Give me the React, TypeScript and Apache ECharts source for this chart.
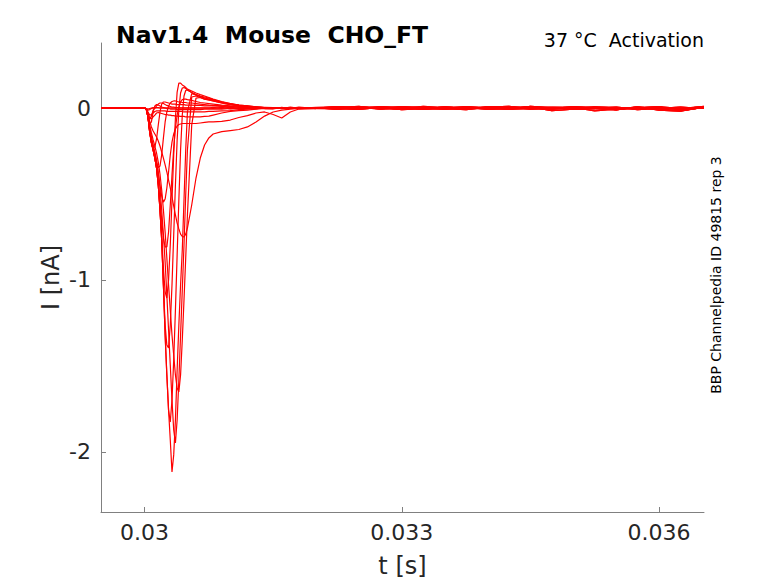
import React, { useEffect, useRef } from "react";
import * as echarts from "echarts";

// ---- time grids (ms) ----
const TIME_PRE_MS = [29.492, 29.65, 29.8, 29.92, 30.0];
const TIME_ONSET_MS = [
  30.02, 30.04, 30.06, 30.08, 30.1, 30.12, 30.14, 30.16, 30.18, 30.2,
  30.22, 30.24, 30.26, 30.28, 30.3, 30.32, 30.34, 30.36, 30.38, 30.4,
  30.42, 30.44, 30.46, 30.48, 30.5, 30.55, 30.6, 30.65, 30.7, 30.75,
  30.8, 30.9, 31.0, 31.1, 31.2, 31.3, 31.4, 31.5, 31.6, 31.7,
  31.8, 32.0,
];
const TIME_TAIL_MS = [
  32.25, 32.5, 32.75, 33, 33.25, 33.5, 33.75, 34, 34.25, 34.5, 34.75, 35,
  35.25, 35.5, 35.75, 36, 36.25, 36.525,
];

// ---- baseline segments (nA) ----
const PRE_A = [0.002, -0.002, 0.003, -0.001, 0];
const PRE_B = [-0.002, 0.002, -0.001, 0.002, 0];
const TAIL_A = [0.006, -0.004, 0.008, 0.003, -0.006, 0.007, -0.003, 0.005, 0.009, -0.004, 0.003, -0.008, -0.003, 0.006, -0.007, 0.004, -0.005, 0.008];
const TAIL_B = [-0.007, 0.004, -0.003, 0.008, 0.002, -0.008, 0.006, -0.004, 0.003, 0.007, -0.016, -0.006, 0.004, -0.003, 0.006, -0.013, -0.018, 0.005];
const TAIL_C = [0.003, 0.009, -0.006, -0.003, 0.009, 0.003, -0.007, 0.008, -0.008, -0.003, 0.006, 0.004, -0.017, -0.007, 0.003, 0.008, -0.004, 0.009];
const TAIL_D = [-0.003, -0.008, 0.004, -0.009, -0.003, 0.006, 0.003, -0.008, -0.004, 0.006, -0.008, 0.003, -0.004, -0.011, 0.007, -0.006, -0.015, 0.003];
const TAIL_E = [0.008, 0.002, -0.005, 0.006, -0.008, -0.002, 0.008, 0.001, -0.006, 0.009, 0.002, -0.004, 0.007, 0.003, -0.009, -0.002, 0.006, -0.003];
const TAIL_F = [-0.005, 0.007, 0.002, -0.006, 0.005, -0.004, -0.009, 0.004, 0.007, -0.007, -0.003, 0.008, 0.002, -0.009, 0.001, 0.005, -0.009, 0.006];

// ---- current traces during onset window (nA) ----
const TRACE_A = [-0.006, -0.047, -0.093, -0.081, -0.023, 0.012, 0.02, 0.017, 0.012, 0.006, 0.003, 0, -0.003, -0.003, -0.006, -0.006, -0.006, -0.006, -0.009, -0.009, -0.009, -0.009, -0.009, -0.009, -0.009, -0.009, -0.009, -0.009, -0.006, -0.006, -0.006, -0.006, -0.003, -0.003, -0.003, 0, 0, 0, 0, 0, 0, 0];
const TRACE_B = [-0.006, -0.052, -0.128, -0.192, -0.227, -0.227, -0.18, -0.099, -0.023, 0.023, 0.035, 0.035, 0.032, 0.029, 0.026, 0.023, 0.023, 0.023, 0.02, 0.02, 0.02, 0.02, 0.02, 0.017, 0.017, 0.017, 0.015, 0.015, 0.012, 0.012, 0.012, 0.009, 0.006, 0.006, 0.003, 0, 0, 0, 0, 0, 0, 0];
const TRACE_C = [-0.006, -0.052, -0.128, -0.192, -0.244, -0.285, -0.32, -0.346, -0.337, -0.273, -0.174, -0.081, -0.023, 0.012, 0.029, 0.038, 0.041, 0.041, 0.038, 0.035, 0.035, 0.032, 0.032, 0.032, 0.029, 0.029, 0.026, 0.023, 0.02, 0.017, 0.015, 0.012, 0.009, 0.006, 0.003, 0, 0, 0, 0, 0, 0, 0];
const TRACE_D = [-0.006, -0.047, -0.116, -0.174, -0.221, -0.267, -0.32, -0.378, -0.448, -0.512, -0.547, -0.529, -0.465, -0.372, -0.273, -0.198, -0.151, -0.122, -0.105, -0.096, -0.093, -0.09, -0.09, -0.09, -0.09, -0.09, -0.09, -0.087, -0.084, -0.081, -0.081, -0.078, -0.07, -0.055, -0.044, -0.029, -0.023, -0.038, -0.058, -0.023, -0.006, -0.003];
const TRACE_E = [-0.006, -0.052, -0.134, -0.198, -0.238, -0.285, -0.343, -0.43, -0.535, -0.651, -0.756, -0.808, -0.808, -0.721, -0.564, -0.39, -0.233, -0.116, -0.041, 0.006, 0.035, 0.049, 0.052, 0.052, 0.049, 0.044, 0.038, 0.032, 0.029, 0.026, 0.023, 0.017, 0.012, 0.009, 0.006, 0.003, 0, 0, 0, 0, 0, 0];
const TRACE_F = [-0.006, -0.052, -0.14, -0.203, -0.244, -0.291, -0.349, -0.448, -0.581, -0.738, -0.93, -1.07, -1.105, -1.0, -0.797, -0.535, -0.273, -0.058, 0.093, 0.145, 0.145, 0.134, 0.128, 0.119, 0.11, 0.099, 0.087, 0.078, 0.07, 0.061, 0.052, 0.038, 0.026, 0.017, 0.012, 0.006, 0.003, 0, 0, 0, 0, 0];
const TRACE_G = [-0.006, -0.052, -0.14, -0.203, -0.244, -0.291, -0.349, -0.448, -0.593, -0.767, -1.029, -1.262, -1.378, -1.395, -1.262, -1.029, -0.738, -0.448, -0.186, -0.012, 0.087, 0.116, 0.119, 0.113, 0.105, 0.09, 0.078, 0.07, 0.064, 0.058, 0.049, 0.035, 0.023, 0.015, 0.009, 0.006, 0.003, 0, 0, 0, 0, 0];
const TRACE_H = [-0.006, -0.052, -0.14, -0.203, -0.244, -0.291, -0.349, -0.448, -0.593, -0.767, -1.029, -1.32, -1.552, -1.756, -1.826, -1.698, -1.465, -1.174, -0.855, -0.535, -0.244, -0.041, 0.07, 0.102, 0.105, 0.09, 0.076, 0.067, 0.058, 0.052, 0.044, 0.032, 0.023, 0.015, 0.009, 0.006, 0.003, 0, 0, 0, 0, 0];
const TRACE_I = [-0.006, -0.052, -0.14, -0.203, -0.244, -0.291, -0.349, -0.448, -0.593, -0.767, -1.029, -1.32, -1.552, -1.756, -1.93, -2.116, -2.017, -1.814, -1.523, -1.262, -1.029, -0.826, -0.535, -0.244, -0.023, 0.084, 0.076, 0.067, 0.058, 0.052, 0.047, 0.035, 0.026, 0.017, 0.012, 0.006, 0.003, 0, 0, 0, 0, 0];
const TRACE_J = [-0.006, -0.047, -0.116, -0.174, -0.215, -0.256, -0.302, -0.372, -0.465, -0.593, -0.738, -0.895, -1.087, -1.291, -1.494, -1.698, -1.872, -1.948, -1.814, -1.581, -1.32, -1.058, -0.797, -0.506, -0.244, 0.064, 0.07, 0.061, 0.052, 0.047, 0.041, 0.029, 0.02, 0.015, 0.009, 0.006, 0.003, 0, 0, 0, 0, 0];
const TRACE_K = [-0.006, -0.041, -0.099, -0.145, -0.186, -0.221, -0.262, -0.314, -0.384, -0.477, -0.593, -0.721, -0.872, -1.029, -1.174, -1.32, -1.436, -1.552, -1.628, -1.651, -1.552, -1.349, -1.116, -0.872, -0.622, -0.099, 0.058, 0.061, 0.052, 0.047, 0.041, 0.029, 0.02, 0.012, 0.009, 0.006, 0.003, 0, 0, 0, 0, 0];
const TRACE_L = [-0.006, -0.035, -0.076, -0.11, -0.134, -0.151, -0.169, -0.192, -0.221, -0.256, -0.291, -0.331, -0.372, -0.419, -0.465, -0.517, -0.57, -0.622, -0.669, -0.703, -0.733, -0.747, -0.75, -0.733, -0.698, -0.564, -0.407, -0.291, -0.215, -0.174, -0.151, -0.137, -0.131, -0.125, -0.11, -0.081, -0.047, -0.023, -0.012, -0.006, -0.003, 0];
const TRACE_N = [-0.006, -0.029, -0.058, -0.064, -0.052, -0.041, -0.029, -0.026, -0.029, -0.032, -0.035, -0.038, -0.038, -0.041, -0.041, -0.044, -0.044, -0.047, -0.047, -0.047, -0.049, -0.049, -0.049, -0.052, -0.052, -0.052, -0.052, -0.052, -0.049, -0.047, -0.041, -0.029, -0.02, -0.015, -0.012, -0.006, -0.003, -0.003, 0, 0, 0, 0];
const TRACE_O = [-0.006, -0.035, -0.064, -0.047, -0.012, 0, 0.012, 0.023, 0.029, 0.029, 0.026, 0.02, 0.015, 0.012, 0.009, 0.006, 0.006, 0.003, 0.003, 0.003, 0, 0, 0, 0, 0, 0, 0, 0, 0, 0, 0, 0, 0, 0, 0, 0, 0, 0, 0, 0, 0, 0];
const TRACE_P = [-0.006, -0.023, -0.041, -0.038, -0.029, -0.02, -0.017, -0.017, -0.017, -0.017, -0.017, -0.017, -0.02, -0.02, -0.02, -0.02, -0.02, -0.02, -0.02, -0.02, -0.02, -0.02, -0.023, -0.023, -0.023, -0.023, -0.023, -0.023, -0.023, -0.02, -0.02, -0.017, -0.015, -0.009, -0.006, -0.003, 0, 0, 0, 0, 0, 0];
const TRACE_Q = [-0.003, -0.012, -0.009, -0.003, 0, 0, 0.003, 0.003, 0, 0, 0, 0, 0, 0, 0, 0, 0, 0, 0, 0, 0, 0, 0, 0, 0, 0, 0, 0, 0, 0, 0.004, -0.003, 0.005, -0.004, 0.003, -0.005, 0.004, 0.002, -0.004, 0.005, -0.002, 0.004];
const TRACE_R = [-0.003, -0.006, -0.003, 0, 0.002, 0, 0, 0, 0, 0, 0, 0, 0, 0, 0, 0, 0, 0, 0, 0, 0, 0, 0, 0, 0, 0, 0, 0, 0, 0, -0.003, 0.004, -0.005, 0.003, -0.004, 0.006, -0.003, -0.005, 0.004, -0.003, 0.005, -0.004];

const TRACES = [
  { onset: TRACE_Q, pre: PRE_A, tail: TAIL_E },
  { onset: TRACE_R, pre: PRE_B, tail: TAIL_F },
  { onset: TRACE_P, pre: PRE_A, tail: TAIL_C },
  { onset: TRACE_N, pre: PRE_B, tail: TAIL_D },
  { onset: TRACE_O, pre: PRE_A, tail: TAIL_B },
  { onset: TRACE_A, pre: PRE_B, tail: TAIL_A },
  { onset: TRACE_B, pre: PRE_A, tail: TAIL_F },
  { onset: TRACE_C, pre: PRE_B, tail: TAIL_E },
  { onset: TRACE_D, pre: PRE_A, tail: TAIL_A },
  { onset: TRACE_E, pre: PRE_B, tail: TAIL_B },
  { onset: TRACE_F, pre: PRE_A, tail: TAIL_C },
  { onset: TRACE_G, pre: PRE_B, tail: TAIL_D },
  { onset: TRACE_H, pre: PRE_A, tail: TAIL_E },
  { onset: TRACE_I, pre: PRE_B, tail: TAIL_B },
  { onset: TRACE_J, pre: PRE_A, tail: TAIL_F },
  { onset: TRACE_K, pre: PRE_B, tail: TAIL_D },
  { onset: TRACE_L, pre: PRE_A, tail: TAIL_A },
];

// ---- axes ----
const X_MIN = 0.029492;
const X_MAX = 0.036525;
const Y_MIN = -2.349;
const Y_MAX = 0.378;
const X_TICKS = [0.03, 0.033, 0.036];
const X_TICK_LABELS = ["0.03", "0.033", "0.036"];
const Y_TICKS = [-2, -1, 0];
const Y_TICK_LABELS = ["-2", "-1", "0"];

const TITLE = "Nav1.4  Mouse  CHO_FT";
const SUBTITLE = "37 °C  Activation";
const SIDE_NOTE = "BBP Channelpedia ID 49815 rep 3";
const X_NAME = "t [s]";
const Y_NAME = "I [nA]";

const FONT = "DejaVu Sans";
const AXIS_COLOR = "#808080";
const TEXT_COLOR = "#262626";

function buildSeriesData(tr: { onset: number[]; pre: number[]; tail: number[] }) {
  const pts: number[][] = [];
  TIME_PRE_MS.forEach((t, k) => pts.push([t / 1000, tr.pre[k]]));
  TIME_ONSET_MS.forEach((t, k) => pts.push([t / 1000, tr.onset[k]]));
  TIME_TAIL_MS.forEach((t, k) => pts.push([t / 1000, tr.tail[k]]));
  return pts;
}

export default function App() {
  const ref = useRef<HTMLDivElement>(null);
  useEffect(() => {
    if (!ref.current) return;
    const chart = echarts.init(ref.current, null, { renderer: "svg" });
    const labelFor = (ticks: number[], labels: string[]) => (v: number) => {
      let best = 0;
      ticks.forEach((t, i) => {
        if (Math.abs(t - v) < Math.abs(ticks[best] - v)) best = i;
      });
      return labels[best];
    };
    chart.setOption({
      animation: false,
      backgroundColor: "#ffffff",
      title: {
        text: TITLE,
        left: 111,
        top: 18,
        textStyle: { fontFamily: FONT, fontSize: 23.5, fontWeight: "bold", color: "#000" },
      },
      grid: { left: 101, right: 74, top: 43, bottom: 71, containLabel: false },
      xAxis: {
        type: "value",
        min: X_MIN,
        max: X_MAX,
        name: X_NAME,
        nameLocation: "middle",
        nameGap: 42,
        nameMoveOverlap: false,
        nameTextStyle: { fontFamily: FONT, fontSize: 24, color: TEXT_COLOR },
        axisLine: { show: true, onZero: false, lineStyle: { color: AXIS_COLOR, width: 1 } },
        axisTick: { show: true, inside: true, length: 5, customValues: X_TICKS, lineStyle: { color: AXIS_COLOR } },
        axisLabel: {
          customValues: X_TICKS,
          formatter: labelFor(X_TICKS, X_TICK_LABELS),
          fontFamily: FONT,
          fontSize: 22,
          color: TEXT_COLOR,
          margin: 9,
        },
        splitLine: { show: false },
      },
      yAxis: {
        type: "value",
        min: Y_MIN,
        max: Y_MAX,
        name: Y_NAME,
        nameLocation: "middle",
        nameGap: 38,
        nameMoveOverlap: false,
        nameRotate: 90,
        nameTextStyle: { fontFamily: FONT, fontSize: 24, color: TEXT_COLOR },
        axisLine: { show: true, onZero: false, lineStyle: { color: AXIS_COLOR, width: 1 } },
        axisTick: { show: true, inside: true, length: 5, customValues: Y_TICKS, lineStyle: { color: AXIS_COLOR } },
        axisLabel: {
          customValues: Y_TICKS,
          formatter: labelFor(Y_TICKS, Y_TICK_LABELS),
          fontFamily: FONT,
          fontSize: 22,
          color: TEXT_COLOR,
          margin: 10,
        },
        splitLine: { show: false },
      },
      graphic: [
        {
          type: "text",
          x: 704,
          y: 40,
          style: {
            text: SUBTITLE,
            fontFamily: FONT,
            fontSize: 19,
            fill: "#000",
            textAlign: "right",
            textVerticalAlign: "middle",
          },
        },
        {
          type: "text",
          x: 716,
          y: 275,
          rotation: Math.PI / 2,
          style: {
            text: SIDE_NOTE,
            fontFamily: FONT,
            fontSize: 14,
            fill: "#000",
            textAlign: "center",
            textVerticalAlign: "middle",
          },
        },
      ],
      series: TRACES.map((tr, i) => ({
        name: "trace" + i,
        type: "line",
        data: buildSeriesData(tr),
        showSymbol: false,
        symbol: "none",
        smooth: false,
        clip: true,
        lineStyle: { color: "#ff0000", width: 1.2 },
        emphasis: { disabled: true },
      })),
    });
    return () => chart.dispose();
  }, []);
  return (
    <div
      ref={ref}
      style={{ position: "fixed", left: 0, top: 0, width: 778, height: 583, background: "#fff" }}
    />
  );
}
